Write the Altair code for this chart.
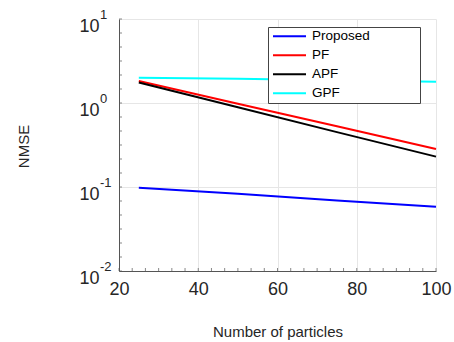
import altair as alt
import pandas as pd

# ---- data ----
particles = [25, 50, 75, 100]
proposed = [0.098, 0.083, 0.069, 0.058]
pf = [1.83, 0.98, 0.53, 0.283]
apf = [1.75, 0.89, 0.45, 0.23]
gpf = [2.0, 1.94, 1.86, 1.79]

series_names = ["Proposed", "PF", "APF", "GPF"]
series_colors = ["#0000FF", "#FF0000", "#000000", "#00FFFF"]

x_major = [20, 40, 60, 80, 100]
y_major = [0.01, 0.1, 1, 10]
y_exponents = ["-2", "-1", "0", "1"]

# minor tick positions (uniform subdivision, as seen in the reference)
x_ticks = [20 + i * 20 / 6 for i in range(25)]
y_ticks = [10 ** (-2 + j / 6) for j in range(19)]

FONT = "Liberation Sans"
TXT = "#262626"
AX = "#555555"

# blank (non-whitespace) glyphs widen the legend box like the MATLAB legend
BLANK = "\u2800" * 5
legend_names = [n + BLANK for n in series_names]

df = pd.DataFrame({
    "N": particles * 4,
    "NMSE": proposed + pf + apf + gpf,
    "Method": [n for n in legend_names for _ in particles],
})

x_scale = alt.Scale(domain=[20, 100], nice=False, zero=False)
y_scale = alt.Scale(type="log", domain=[0.01, 10], nice=False)

x_axis = alt.Axis(
    values=x_major, title="Number of particles", grid=True, gridColor="#e6e6e6",
    ticks=False, tickSize=0, domainColor=AX, labelFont=FONT, labelFontSize=18,
    labelColor=TXT, labelPadding=9, labelFlush=False, labelOverlap=False,
    titleFont=FONT, titleFontSize=15, titleFontWeight="normal", titleColor=TXT,
    titleX=158.5, titleY=53, titleBaseline="top",
)
y_axis = alt.Axis(
    values=y_major, labelExpr="'10'", title="NMSE", grid=True, gridColor="#e6e6e6",
    ticks=False, tickSize=0, domainColor=AX, labelFont=FONT, labelFontSize=18,
    labelColor=TXT, labelPadding=20, labelOffset=7, labelFlush=False, labelOverlap=False,
    titleFont=FONT, titleFontSize=15, titleFontWeight="normal", titleColor=TXT,
    titleX=-88, titleY=127,
)

lines = alt.Chart(df).mark_line(strokeWidth=2).encode(
    x=alt.X("N:Q", scale=x_scale, axis=x_axis),
    y=alt.Y("NMSE:Q", scale=y_scale, axis=y_axis),
    color=alt.Color(
        "Method:N",
        scale=alt.Scale(domain=legend_names, range=series_colors),
        sort=legend_names,
        legend=alt.Legend(
            title=None, orient="none", legendX=149, legendY=8,
            symbolType="stroke", symbolSize=1089, symbolStrokeWidth=2,
            clipHeight=18.3, rowPadding=0, padding=0,
            symbolOffset=4, labelOffset=5, labelLimit=300,
            labelFont=FONT, labelFontSize=13.5, labelColor="#000000",
            strokeColor="#444444", fillColor="white",
        ),
    ),
)

exps = alt.Chart(pd.DataFrame({"v": y_major, "e": y_exponents})).mark_text(
    align="left", baseline="middle", dx=-19, dy=-4, fontSize=13, font=FONT, color=TXT
).encode(
    x=alt.XDatum(20, scale=x_scale, axis=x_axis),
    y=alt.Y("v:Q", scale=y_scale, axis=y_axis),
    text="e:N",
)

xt = alt.Chart(pd.DataFrame({"t": x_ticks})).mark_tick(
    orient="vertical", size=3, thickness=1, yOffset=-1.5, color=AX
).encode(
    x=alt.X("t:Q", scale=x_scale, axis=x_axis),
    y=alt.YDatum(0.01, scale=y_scale, axis=y_axis),
)

yt = alt.Chart(pd.DataFrame({"t": y_ticks})).mark_tick(
    orient="horizontal", size=3, thickness=1, xOffset=1.5, color=AX
).encode(
    x=alt.XDatum(20, scale=x_scale, axis=x_axis),
    y=alt.Y("t:Q", scale=y_scale, axis=y_axis),
)

chart = alt.layer(xt, yt, lines, exps).properties(
    width=317, height=252,
    autosize=alt.AutoSizeParams(type="none"),
    padding={"left": 119, "top": 19, "right": 18, "bottom": 71},
    background="white",
).configure_view(stroke=None)

chart.save("out.html", embed_options={"renderer": "svg", "actions": False})
